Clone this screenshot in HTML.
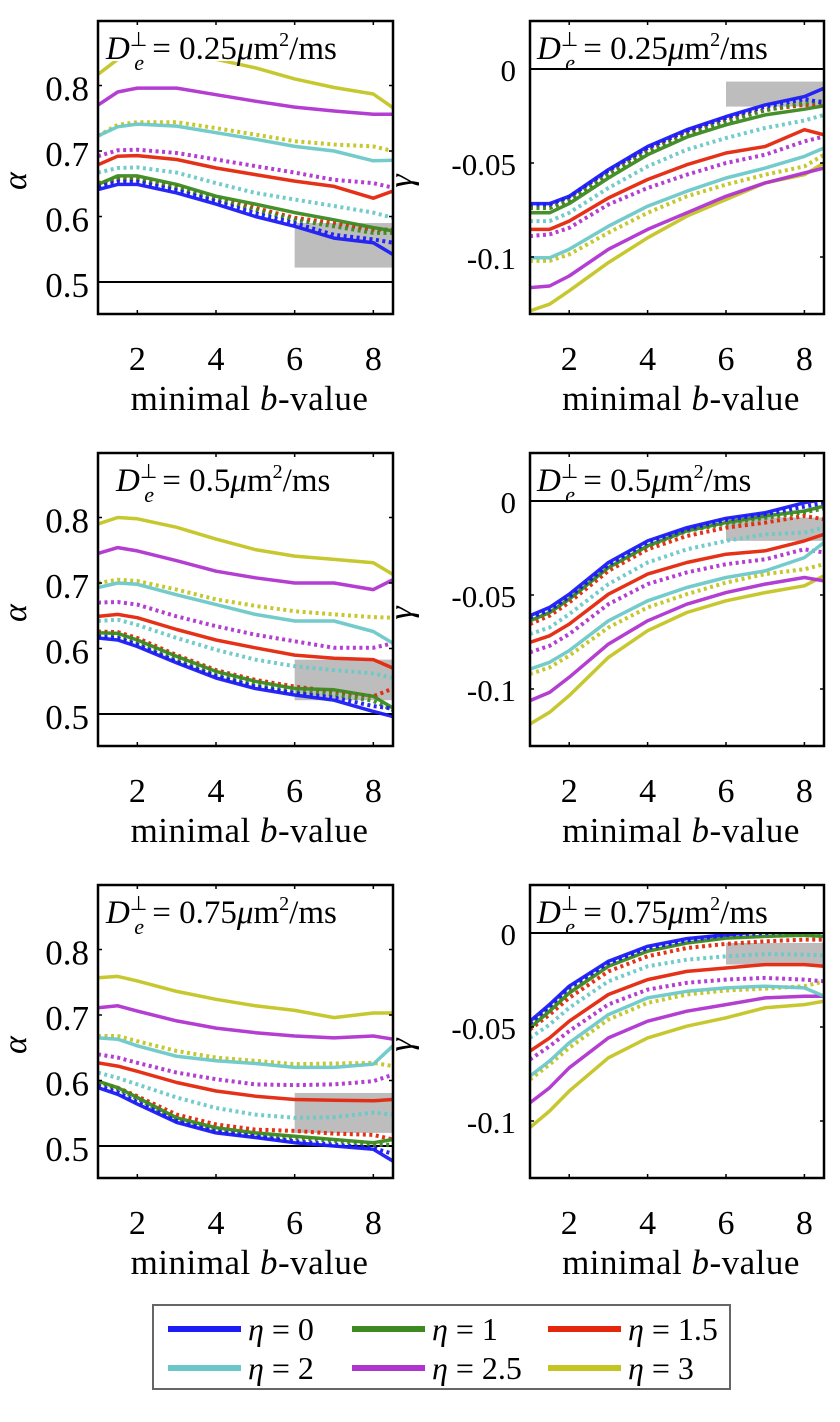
<!DOCTYPE html>
<html><head><meta charset="utf-8"><style>
body{margin:0;background:#fff;}
svg{display:block;font-family:"Liberation Serif",serif;}
</style></head><body>
<svg id="fig" width="840" height="1422" viewBox="0 0 840 1422" xmlns="http://www.w3.org/2000/svg"></svg>
<script>
const xs = [1,1.5,2,3,4,5,6,7,8,8.5];
const etaLabels = ["0","1","1.5","2","2.5","3"];
const colors = ["#1c1cf5","#3c8a20","#e4260c","#6cc8c8","#b034d0","#c4c424"];
const panelLabels = ["0.25","0.5","0.75"];
const alphaTicks = [0.5,0.6,0.7,0.8];
const gammaTicks = [0,-0.05,-0.1];
const xTicks = [2,4,6,8];
const a1s = [[0.641,0.649,0.649,0.636,0.619,0.600,0.585,0.567,0.560,0.542],[0.649,0.662,0.662,0.649,0.631,0.619,0.606,0.595,0.583,0.578],[0.679,0.692,0.693,0.687,0.674,0.664,0.654,0.646,0.628,0.639],[0.723,0.737,0.741,0.738,0.728,0.718,0.707,0.700,0.685,0.686],[0.770,0.790,0.796,0.796,0.786,0.776,0.767,0.761,0.756,0.756],[0.817,0.840,0.850,0.850,0.840,0.827,0.810,0.797,0.787,0.766]];
const a1d = [[0.645,0.653,0.653,0.640,0.623,0.605,0.590,0.572,0.565,0.560],[0.647,0.656,0.656,0.643,0.626,0.610,0.595,0.585,0.575,0.575],[0.651,0.657,0.657,0.646,0.628,0.613,0.598,0.590,0.580,0.580],[0.667,0.674,0.675,0.667,0.651,0.636,0.626,0.616,0.606,0.598],[0.692,0.701,0.702,0.697,0.687,0.677,0.667,0.656,0.651,0.644],[0.723,0.740,0.744,0.744,0.735,0.725,0.715,0.710,0.707,0.700]];
const a2s = [[0.616,0.613,0.603,0.578,0.555,0.539,0.529,0.521,0.504,0.496],[0.624,0.623,0.613,0.588,0.565,0.550,0.539,0.537,0.527,0.509],[0.649,0.652,0.647,0.629,0.613,0.601,0.590,0.585,0.583,0.570],[0.693,0.700,0.698,0.682,0.667,0.652,0.642,0.642,0.626,0.608],[0.745,0.754,0.749,0.734,0.718,0.708,0.700,0.700,0.690,0.705],[0.790,0.800,0.798,0.785,0.767,0.751,0.741,0.736,0.731,0.713]];
const a2d = [[0.618,0.616,0.606,0.580,0.558,0.542,0.532,0.525,0.512,0.508],[0.622,0.620,0.610,0.584,0.560,0.545,0.534,0.530,0.520,0.506],[0.626,0.625,0.616,0.590,0.567,0.552,0.542,0.534,0.527,0.539],[0.642,0.644,0.636,0.616,0.598,0.583,0.573,0.567,0.562,0.555],[0.670,0.671,0.667,0.649,0.634,0.621,0.611,0.601,0.601,0.608],[0.700,0.705,0.703,0.690,0.675,0.665,0.657,0.652,0.648,0.647]];
const a3s = [[0.589,0.579,0.564,0.536,0.520,0.513,0.505,0.500,0.495,0.477],[0.599,0.589,0.574,0.543,0.528,0.520,0.515,0.510,0.505,0.510],[0.627,0.622,0.614,0.597,0.584,0.576,0.571,0.570,0.569,0.571],[0.665,0.663,0.653,0.637,0.630,0.626,0.620,0.620,0.625,0.653],[0.711,0.714,0.706,0.691,0.680,0.673,0.668,0.665,0.668,0.663],[0.757,0.759,0.752,0.736,0.724,0.714,0.707,0.696,0.703,0.703]];
const a3d = [[0.592,0.582,0.567,0.538,0.522,0.515,0.507,0.502,0.497,0.488],[0.598,0.587,0.572,0.540,0.525,0.517,0.512,0.508,0.502,0.502],[0.597,0.589,0.576,0.548,0.533,0.525,0.523,0.519,0.517,0.510],[0.612,0.604,0.594,0.574,0.558,0.548,0.543,0.544,0.551,0.548],[0.640,0.635,0.627,0.612,0.602,0.594,0.593,0.594,0.599,0.609],[0.668,0.668,0.660,0.645,0.635,0.630,0.625,0.626,0.627,0.622]];
const g1s = [[-0.0716,-0.0716,-0.0677,-0.0535,-0.0412,-0.0323,-0.0253,-0.0191,-0.0147,-0.0102],[-0.0765,-0.0765,-0.0716,-0.058,-0.0456,-0.0362,-0.0297,-0.0244,-0.0214,-0.0196],[-0.0853,-0.0853,-0.0809,-0.0686,-0.0588,-0.0509,-0.0447,-0.0412,-0.0323,-0.035],[-0.1004,-0.1004,-0.0959,-0.0836,-0.073,-0.065,-0.058,-0.0527,-0.0465,-0.042],[-0.1163,-0.1154,-0.1101,-0.0959,-0.0853,-0.0765,-0.0677,-0.0606,-0.0553,-0.0527],[-0.1286,-0.1251,-0.118,-0.103,-0.0898,-0.0783,-0.0694,-0.0606,-0.0562,-0.05]];
const g1d = [[-0.072,-0.072,-0.068,-0.054,-0.042,-0.033,-0.026,-0.020,-0.016,-0.018],[-0.074,-0.074,-0.070,-0.056,-0.044,-0.035,-0.028,-0.022,-0.018,-0.017],[-0.0739,-0.0739,-0.0694,-0.0553,-0.0433,-0.0341,-0.027,-0.0217,-0.0191,-0.0196],[-0.0809,-0.0809,-0.0765,-0.0633,-0.0518,-0.0429,-0.0367,-0.0314,-0.0274,-0.0244],[-0.0889,-0.088,-0.0845,-0.0721,-0.0633,-0.0562,-0.05,-0.0456,-0.0385,-0.0359],[-0.1021,-0.1021,-0.0986,-0.0871,-0.0765,-0.0677,-0.0615,-0.0562,-0.0518,-0.0456]];
const g2s = [[-0.061,-0.0566,-0.0496,-0.0327,-0.0212,-0.0142,-0.0092,-0.0062,-0.0009,0.0009],[-0.0637,-0.0593,-0.0522,-0.0354,-0.0239,-0.0159,-0.0115,-0.008,-0.0053,-0.0027],[-0.0752,-0.0717,-0.0655,-0.0496,-0.0389,-0.0327,-0.0283,-0.0265,-0.0212,-0.0177],[-0.0894,-0.0858,-0.0796,-0.0637,-0.0531,-0.046,-0.0407,-0.0372,-0.0301,-0.0221],[-0.1062,-0.1018,-0.0938,-0.0761,-0.0637,-0.0549,-0.0487,-0.0442,-0.0407,-0.0425],[-0.1186,-0.1124,-0.1035,-0.0832,-0.069,-0.0593,-0.0531,-0.0487,-0.0451,-0.0398]];
const g2d = [[-0.062,-0.058,-0.051,-0.034,-0.022,-0.015,-0.010,-0.007,-0.003,-0.001],[-0.063,-0.059,-0.052,-0.035,-0.024,-0.016,-0.012,-0.009,-0.006,-0.004],[-0.0655,-0.061,-0.054,-0.0372,-0.0257,-0.0186,-0.0142,-0.0115,-0.008,-0.0097],[-0.0708,-0.0673,-0.0602,-0.0442,-0.0327,-0.0257,-0.0212,-0.0177,-0.0168,-0.0142],[-0.0805,-0.077,-0.0708,-0.0549,-0.0442,-0.038,-0.0336,-0.031,-0.0257,-0.0274],[-0.092,-0.0885,-0.0823,-0.0673,-0.0566,-0.0496,-0.0434,-0.0389,-0.0363,-0.0336]];
const g3s = [[-0.0469,-0.038,-0.0283,-0.015,-0.0071,-0.003,-0.0009,0.0009,0.0018,0.0071],[-0.0504,-0.0416,-0.0319,-0.0177,-0.0097,-0.0053,-0.0027,-0.0018,-0.0012,-0.0018],[-0.0628,-0.0558,-0.0469,-0.0327,-0.0248,-0.0204,-0.0186,-0.0168,-0.0168,-0.0177],[-0.0761,-0.0681,-0.0584,-0.0434,-0.0345,-0.031,-0.0292,-0.0283,-0.0292,-0.0336],[-0.0903,-0.0823,-0.0717,-0.0558,-0.0469,-0.0416,-0.0381,-0.0345,-0.0336,-0.0336],[-0.1035,-0.0947,-0.0841,-0.0664,-0.0558,-0.0496,-0.0451,-0.0398,-0.0381,-0.0363]];
const g3d = [[-0.048,-0.039,-0.029,-0.016,-0.008,-0.004,-0.001,0.000,0.001,0.002],[-0.049,-0.040,-0.031,-0.017,-0.009,-0.005,-0.002,-0.001,-0.001,-0.001],[-0.0513,-0.0434,-0.0345,-0.0204,-0.0124,-0.008,-0.0058,-0.0044,-0.0035,-0.0035],[-0.0558,-0.0487,-0.0398,-0.0257,-0.0177,-0.0142,-0.0124,-0.0112,-0.0115,-0.0119],[-0.0673,-0.0602,-0.0522,-0.038,-0.0301,-0.0265,-0.0248,-0.0239,-0.0248,-0.0257],[-0.0779,-0.0699,-0.0611,-0.046,-0.0372,-0.0327,-0.0306,-0.0296,-0.0283,-0.0257]];
const alphaShade = [[0.590,0.522],[0.583,0.521],[0.581,0.520]];
const gammaShade = [[-0.0067,-0.020],[-0.0088,-0.0212],[-0.0053,-0.0168]];
const shadeX = [6,8.5];

const NS="http://www.w3.org/2000/svg";
const svg=document.getElementById('fig');
function mk(tag,attrs,parent){const e=document.createElementNS(NS,tag);for(const k in attrs)e.setAttribute(k,attrs[k]);(parent||svg).appendChild(e);return e;}
const rowTops=[21,453,885], H=293;
const L={x0:98,x1:393}, R={x0:530,x1:824};
function xScale(P){return v=>P.x0+(v-1)*(P.x1-P.x0)/7.5;}

function panel(col,row,solid,dotted,shade){
  const P=col===0?L:R, top=rowTops[row], bot=top+H;
  const X=xScale(P);
  const Y= col===0 ? (v=>top+261-(v-0.5)*655) : (v=>top+48-v*1880);
  const g=mk('g',{});
  
  
  const cid='c'+col+row;
  const cp=mk('clipPath',{id:cid},g); mk('rect',{x:P.x0,y:top,width:P.x1-P.x0,height:H},cp);
  const pg=mk('g',{'clip-path':'url(#'+cid+')'},g);
  const sh=mk('rect',{x:X(shadeX[0]),y:Y(shade[0]),width:X(shadeX[1])-X(shadeX[0]),height:Y(shade[1])-Y(shade[0]),fill:'#bdbdbd'},pg);
  
  
  const ref=mk('line',{x1:P.x0,x2:P.x1,y1:Y(col===0?0.5:0),y2:Y(col===0?0.5:0),stroke:'#000','stroke-width':2},pg);
  
  
  for(let i=5;i>=0;i--){
    for(const [arr,dash] of [[dotted,true],[solid,false]]){
      const pts=xs.map((x,j)=>X(x).toFixed(1)+','+Y(arr[i][j]).toFixed(1)).join(' ');
      const pl=mk('polyline',{points:pts,fill:'none',stroke:colors[i],'stroke-width':dash?4:3.5,'stroke-linejoin':'round','stroke-dasharray':dash?'3 3.5':'none',opacity:0.95},pg);
      
      
    }
  }
  if(col===1){
    mk('rect',{x:P.x0,y:top,width:P.x1-P.x0,height:48,fill:'#fff',stroke:'#000','stroke-width':2},g);
  } else {
    mk('rect',{x:P.x0+2,y:top+2,width:P.x1-P.x0-4,height:38,fill:'#fff'},g);
  }
  const t=mk('text',{x:col===1?P.x0+7:P.x0+(row===1?18:8),y:top+38,'font-size':33},g);
  
  
  t.innerHTML='<tspan font-style="italic">D</tspan><tspan dy="-13" font-size="20">⊥</tspan><tspan dx="-13" dy="24" font-size="22" font-style="italic">e</tspan><tspan dy="-11"> = 0'+panelLabels[row].slice(1)+'</tspan><tspan font-style="italic">μ</tspan><tspan>m</tspan><tspan dy="-13" font-size="20">2</tspan><tspan dy="13">/ms</tspan>';
  mk('rect',{x:P.x0,y:top,width:P.x1-P.x0,height:H,fill:'none',stroke:'#000','stroke-width':2.5},g);
  for(const v of xTicks){
    mk('line',{x1:X(v),x2:X(v),y1:bot,y2:bot-4,stroke:'#000','stroke-width':1.5},g);
    mk('line',{x1:X(v),x2:X(v),y1:top,y2:top+4,stroke:'#000','stroke-width':1.5},g);
    const tl=mk('text',{x:X(v),y:bot+56,'text-anchor':'middle','font-size':34},g);
    tl.textContent=v;
    
    
  }
  const ticks=col===0?alphaTicks:gammaTicks;
  for(const v of ticks){
    mk('line',{x1:P.x0,x2:P.x0+4,y1:Y(v),y2:Y(v),stroke:'#000','stroke-width':1.5},g);
    mk('line',{x1:P.x1,x2:P.x1-4,y1:Y(v),y2:Y(v),stroke:'#000','stroke-width':1.5},g);
    const tl=mk('text',{x:P.x0-(col===0?9:14),y:Y(v)+(col===0?15:12),'text-anchor':'end','font-size':col===0?35:31},g);
    tl.textContent=col===0?v.toFixed(1):(v===0?'0':String(v));
    
    
  }
  const xt=mk('text',{x:(P.x0+P.x1)/2+4,y:bot+96,'text-anchor':'middle','font-size':35,'letter-spacing':'0.5'},g);
  xt.innerHTML='minimal <tspan font-style="italic">b</tspan>-value';
  
  
  const yx=col===0?26:412, yy=top+160;
  const yt=mk('text',{x:yx,y:yy,'text-anchor':'middle','font-size':34,'font-style':'italic',transform:'rotate(-90 '+yx+' '+yy+')'},g);
  yt.textContent=col===0?'α':'γ';
  
  
}
panel(0,0,a1s,a1d,alphaShade[0]); panel(1,0,g1s,g1d,gammaShade[0]);
panel(0,1,a2s,a2d,alphaShade[1]); panel(1,1,g2s,g2d,gammaShade[1]);
panel(0,2,a3s,a3d,alphaShade[2]); panel(1,2,g3s,g3d,gammaShade[2]);

const lg=mk('g',{});


mk('rect',{x:153,y:1305,width:577,height:84,fill:'#fff',stroke:'#666','stroke-width':2},lg);
const lcx=[168,352,548], lcy=[1329,1368];
for(let i=0;i<6;i++){
  const c=i%3, r=Math.floor(i/3);
  const e=mk('g',{},lg);
  
  
  mk('line',{x1:lcx[c],x2:lcx[c]+73,y1:lcy[r],y2:lcy[r],stroke:colors[i],'stroke-width':6},e);
  const t=mk('text',{x:lcx[c]+80,y:lcy[r]+11,'font-size':32},e);
  t.innerHTML='<tspan font-style="italic">η</tspan> = '+etaLabels[i];
}
</script>
</body></html>
